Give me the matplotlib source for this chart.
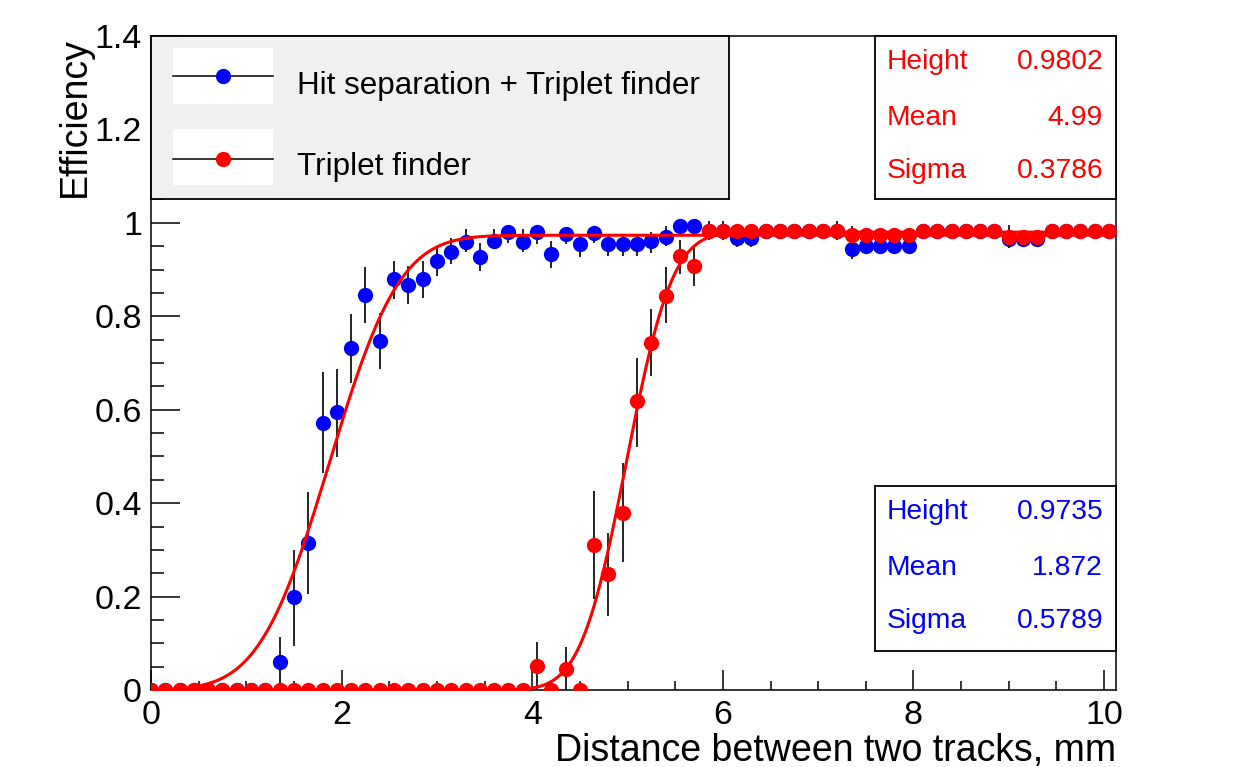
import numpy as np
import matplotlib
matplotlib.use("Agg")
import matplotlib.pyplot as plt
from matplotlib.patches import Rectangle
from matplotlib.ticker import MultipleLocator, FuncFormatter
from math import erf, sqrt

plt.rcParams['font.family'] = ['Liberation Sans', 'DejaVu Sans']

# ---------------- data ----------------
bin_width = 0.15
n_points = 68
distance = np.arange(n_points) * bin_width          # mm

eff_hit = ([0.0] * 9 +
           [0.059, 0.199, 0.315, 0.571, 0.596, 0.733, 0.845, 0.748, 0.880, 0.867, 0.879,
            0.919, 0.937, 0.958, 0.926, 0.962, 0.980, 0.958, 0.980, 0.933, 0.976,
            0.955, 0.978, 0.955, 0.955, 0.955, 0.962, 0.969, 0.994, 0.994, 0.983,
            0.983, 0.967, 0.967, 0.983, 0.983, 0.983, 0.983, 0.983, 0.983, 0.945,
            0.951, 0.951, 0.951, 0.951, 0.983, 0.983, 0.983, 0.983, 0.983, 0.983,
            0.965, 0.965, 0.965, 0.983, 0.983, 0.983, 0.983, 0.983])
err_hit_lo = ([0.0] * 9 +
              [0.059, 0.104, 0.109, 0.107, 0.098, 0.076, 0.060, 0.061, 0.042, 0.041, 0.039,
               0.032, 0.025, 0.020, 0.029, 0.019, 0.024, 0.020, 0.026, 0.029, 0.022,
               0.028, 0.022, 0.026, 0.026, 0.026, 0.027, 0.018, 0.012, 0.012, 0.014,
               0.014, 0.018, 0.018, 0.014, 0.014, 0.014, 0.014, 0.014, 0.016, 0.023,
               0.014, 0.014, 0.014, 0.014, 0.014, 0.014, 0.014, 0.014, 0.014, 0.014,
               0.016, 0.016, 0.016, 0.014, 0.014, 0.014, 0.014, 0.014])
err_hit_hi = ([0.0] * 9 +
              [0.055, 0.100, 0.108, 0.110, 0.091, 0.071, 0.060, 0.058, 0.039, 0.041, 0.040,
               0.032, 0.030, 0.028, 0.031, 0.024, 0.010, 0.028, 0.010, 0.029, 0.012,
               0.022, 0.010, 0.022, 0.022, 0.022, 0.019, 0.025, 0.006, 0.006, 0.010,
               0.010, 0.014, 0.014, 0.010, 0.010, 0.010, 0.010, 0.010, 0.012, 0.020,
               0.012, 0.012, 0.012, 0.012, 0.012, 0.012, 0.012, 0.012, 0.012, 0.012,
               0.014, 0.014, 0.014, 0.010, 0.010, 0.010, 0.010, 0.010])

eff_trip = ([0.0] * 27 +
            [0.052, 0.0, 0.045, 0.0, 0.310, 0.249, 0.378, 0.618, 0.743, 0.844, 0.928, 0.908] +
            [0.983] * 10 + [0.973] * 5 + [0.983] * 6 + [0.969] * 3 + [0.983] * 5)
err_trip_lo = ([0.0] * 27 +
               [0.052, 0.0, 0.045, 0.0, 0.115, 0.090, 0.104, 0.098, 0.070, 0.059, 0.038, 0.044,
                0.019, 0.019, 0.016, 0.016, 0.016, 0.016, 0.016, 0.016, 0.016, 0.020,
                0.020, 0.012, 0.012, 0.012, 0.012,
                0.016, 0.016, 0.016, 0.016, 0.016, 0.016,
                0.023, 0.012, 0.012,
                0.016, 0.016, 0.016, 0.018, 0.016])
err_trip_hi = ([0.0] * 27 +
               [0.050, 0.0, 0.046, 0.0, 0.116, 0.087, 0.107, 0.092, 0.072, 0.061, 0.036, 0.043,
                0.020, 0.020, 0.008, 0.008, 0.008, 0.008, 0.008, 0.008, 0.008, 0.020,
                0.021, 0.010, 0.010, 0.010, 0.010,
                0.008, 0.008, 0.008, 0.008, 0.008, 0.008,
                0.027, 0.010, 0.010,
                0.010, 0.010, 0.010, 0.015, 0.010])

# fit parameters (error-function turn-on curves)
fit_hit = {"Height": 0.9735, "Mean": 1.872, "Sigma": 0.5789}
fit_trip = {"Height": 0.9802, "Mean": 4.99, "Sigma": 0.3786}
fit_hit_txt = {"Height": "0.9735", "Mean": "1.872", "Sigma": "0.5789"}
fit_trip_txt = {"Height": "0.9802", "Mean": "4.99", "Sigma": "0.3786"}

legend_labels = ["Hit separation + Triplet finder", "Triplet finder"]
x_title = "Distance between two tracks, mm"
y_title = "Efficiency"


def turn_on(xv, p):
    return np.array([p["Height"] * 0.5 * (1 + erf((v - p["Mean"]) / (p["Sigma"] * sqrt(2)))) for v in xv])


# ---------------- figure ----------------
W, H = 1239, 767
fig = plt.figure(figsize=(W / 100, H / 100), dpi=100)


def px_rect(x0, y0, x1, y1):
    return [x0 / W, 1 - y1 / H, (x1 - x0) / W, (y1 - y0) / H]


ax = fig.add_axes(px_rect(151, 36, 1116, 690))
ax.set_xlim(0, 10.125)
ax.set_ylim(0, 1.4)

xs = np.linspace(0, 10.125, 600)
MS = 11

ax.errorbar(distance, eff_hit, yerr=[err_hit_lo, err_hit_hi], fmt='o', color='#0000ff',
            ms=MS, mew=0, ecolor='black', elinewidth=1.2, capsize=3.2, capthick=1.2, zorder=3)
ax.plot(xs, turn_on(xs, fit_hit), color='#ff0000', lw=2.2, zorder=4)
ax.errorbar(distance, eff_trip, yerr=[err_trip_lo, err_trip_hi], fmt='o', color='#ff0000',
            ms=MS, mew=0, ecolor='black', elinewidth=1.2, capsize=3.2, capthick=1.2, zorder=5)
ax.plot(xs, turn_on(xs, fit_trip), color='#ff0000', lw=2.2, zorder=6)

# ROOT-like axes
for sp in ax.spines.values():
    sp.set_linewidth(1.1)
ax.xaxis.set_major_locator(MultipleLocator(2))
ax.xaxis.set_minor_locator(MultipleLocator(0.5))
ax.yaxis.set_major_locator(MultipleLocator(0.2))
ax.yaxis.set_minor_locator(MultipleLocator(0.05))
fmt = FuncFormatter(lambda v, p: f"{v:.10g}" if abs(v) > 1e-9 else "0")
ax.xaxis.set_major_formatter(fmt)
ax.yaxis.set_major_formatter(fmt)
ax.tick_params(axis='both', which='both', direction='in', top=False, right=False,
               width=1.1, labelsize=24.5)
ax.tick_params(axis='x', which='major', length=14.4, pad=7)
ax.tick_params(axis='x', which='minor', length=6.8)
ax.tick_params(axis='y', which='major', length=21, pad=6.5)
ax.tick_params(axis='y', which='minor', length=9.4)

fig.text(1116 / W, 1 - 761 / H, x_title, ha='right', va='baseline', fontsize=27)
fig.text(85 / W, 1 - 37 / H, y_title, rotation=90, rotation_mode='anchor',
         ha='right', va='baseline', fontsize=27)

# ---------------- legend box ----------------
lax = fig.add_axes(px_rect(151, 36, 729, 199), zorder=10)
lax.set_xlim(151, 729)
lax.set_ylim(199, 36)
lax.set_facecolor('#f0f0f0')
lax.set_xticks([])
lax.set_yticks([])
for sp in lax.spines.values():
    sp.set_linewidth(1.3)
leg_rows = [(47.5, 103.5, 75.5, 94, '#0000ff'), (128.5, 184.5, 158.5, 175.5, '#ff0000')]
for (y0, y1, yl, yb, col), lab in zip(leg_rows, legend_labels):
    lax.add_patch(Rectangle((172.5, y0), 100.5, y1 - y0, facecolor='white', edgecolor='none'))
    lax.plot([172.5, 273], [yl, yl], color='black', lw=1.1)
    lax.plot([223], [yl], 'o', color=col, ms=MS, mew=0)
    lax.text(297, yb, lab, ha='left', va='baseline', fontsize=22.6)

# ---------------- stats boxes ----------------
def stats_box(y0, y1, rows_y, params, color):
    sax = fig.add_axes(px_rect(875, y0, 1116, y1), zorder=10)
    sax.set_xlim(875, 1116)
    sax.set_ylim(y1, y0)
    sax.set_facecolor('white')
    sax.set_xticks([])
    sax.set_yticks([])
    for sp in sax.spines.values():
        sp.set_linewidth(1.3)
    for yc, (name, val) in zip(rows_y, params.items()):
        sax.text(887, yc, name, ha='left', va='center', color=color, fontsize=20.3)
        sax.text(1103, yc, val, ha='right', va='center', color=color, fontsize=20.3)


stats_box(36, 199, [62, 118, 171], fit_trip_txt, '#ff0000')
stats_box(486, 651, [512, 568, 621], fit_hit_txt, '#0000ff')

fig.savefig("out.png", dpi=100)
